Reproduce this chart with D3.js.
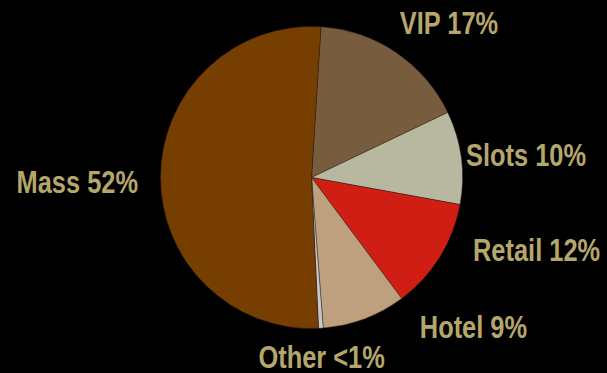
<!DOCTYPE html>
<html>
<head>
<meta charset="utf-8">
<script src="https://cdn.jsdelivr.net/npm/d3@7"></script>
<style>
  html, body { margin: 0; padding: 0; background: #000; }
  svg { display: block; }
</style>
</head>
<body>
<svg id="chart" width="607" height="373"></svg>
<script>
// Revenue mix by segment
const categories = ["VIP", "Slots", "Retail", "Hotel", "Other", "Mass"];
const shares = [17, 10, 12, 9, 0.5, 52];
const shareLabels = ["17%", "10%", "12%", "9%", "<1%", "52%"];
const colors = ["#785C3E", "#B8B8A0", "#D01E14", "#BEA07E", "#C8C8CC", "#763E00"];

// label nudges relative to the anchor just outside each slice [dx, dy]
const labelNudge = [[-3, -8], [-7, 10], [23, -2], [51, 8], [0, 28], [-10.5, 17]];

const W = 607, H = 373;
const cx = 311.5, cy = 177.5, r = 151;
const rotation = 3.6 * Math.PI / 180;
// bold narrow face: regular bold sans squeezed horizontally
const narrow = 0.82;

const svg = d3.select("#chart");
svg.append("rect").attr("width", W).attr("height", H).attr("fill", "#000");

const data = categories.map((c, i) => ({ name: c, value: shares[i], label: shareLabels[i], color: colors[i], nudge: labelNudge[i] }));

const pie = d3.pie()
  .value(d => d.value)
  .sort(null)
  .startAngle(rotation)
  .endAngle(rotation + 2 * Math.PI);

const arcs = pie(data);
const arc = d3.arc().innerRadius(0).outerRadius(r);

const g = svg.append("g").attr("transform", `translate(${cx},${cy})`);

g.selectAll("path.slice")
  .data(arcs)
  .enter().append("path")
  .attr("class", "slice")
  .attr("d", arc)
  .attr("fill", d => d.data.color)
  .attr("stroke", "rgba(40,30,20,0.55)")
  .attr("stroke-width", 0.8);

const labelR = r + 12;
const labels = g.selectAll("g.lbl")
  .data(arcs)
  .enter().append("g")
  .attr("class", "lbl")
  .attr("transform", d => {
    const mid = (d.startAngle + d.endAngle) / 2;
    const px = Math.sin(mid) * labelR + d.data.nudge[0];
    const py = -Math.cos(mid) * labelR + d.data.nudge[1];
    return `translate(${px},${py}) scale(${narrow},1)`;
  });

labels.append("text")
  .attr("text-anchor", d => {
    const s = Math.sin((d.startAngle + d.endAngle) / 2);
    return s > 0.3 ? "start" : (s < -0.3 ? "end" : "middle");
  })
  .attr("font-family", "'Liberation Sans', Arial, sans-serif")
  .attr("font-weight", "bold")
  .attr("font-size", 31)
  .attr("fill", "#B5A66C")
  .text(d => `${d.data.name} ${d.data.label}`);
</script>
</body>
</html>
